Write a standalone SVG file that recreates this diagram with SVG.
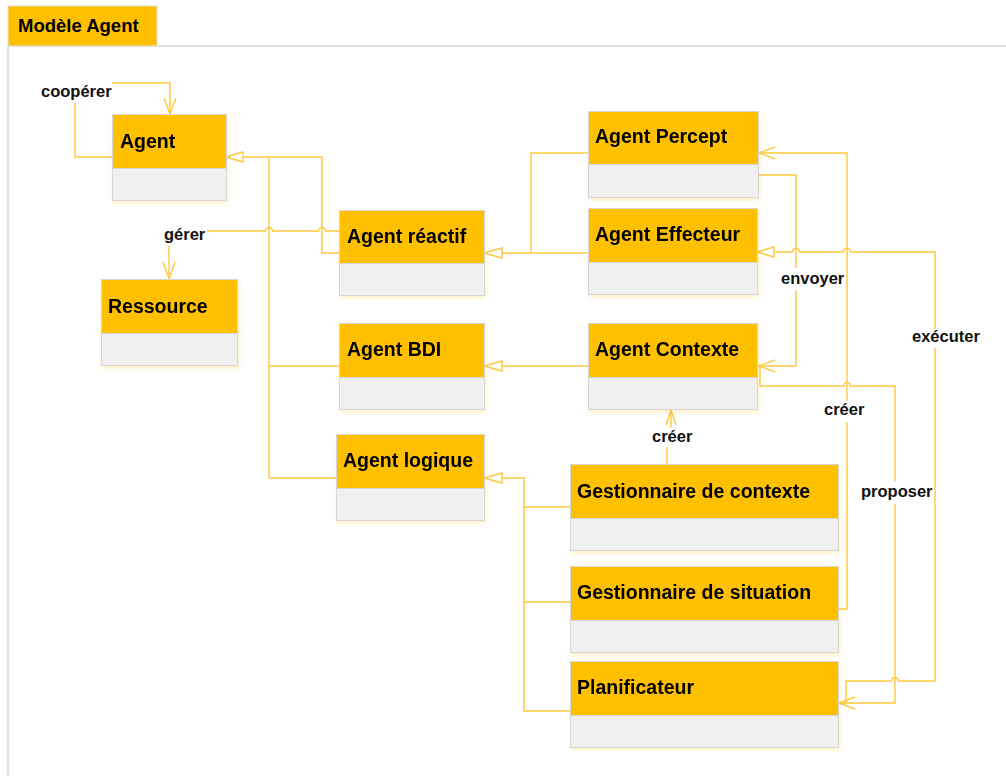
<svg xmlns="http://www.w3.org/2000/svg" width="1006" height="776" viewBox="0 0 1006 776">
<style>
.hd{fill:#FFC000;stroke:#D6D6D6;stroke-width:1}
.bd{fill:#F0F0F0;stroke:#D6D6D6;stroke-width:1}
.nm{font-family:"Liberation Sans",Arial,sans-serif;font-weight:bold;font-size:19.5px;fill:#000}
.lb{font-family:"Liberation Sans",Arial,sans-serif;font-weight:bold;font-size:16.5px;fill:#111}
.ln{fill:none;stroke:#FFC73D;stroke-width:1.4}
.tri{fill:#fff;stroke:#FFC73D;stroke-width:1.4}
</style>
<defs>
<filter id="sh" x="-10%" y="-10%" width="125%" height="130%">
<feDropShadow dx="1" dy="2" stdDeviation="2" flood-color="#FFC000" flood-opacity="0.25"/>
</filter>
</defs>
<rect width="1006" height="776" fill="#fff"/>
<g id="frame">
<path d="M8,776 V46 H1006" fill="none" stroke="#E2E0DA" stroke-width="2"/>
<rect x="8" y="6" width="149" height="40" fill="#FFC000" stroke="#E2E0DA" stroke-width="1"/>
<text x="18" y="32" font-family="Liberation Sans, Arial, sans-serif" font-weight="bold" font-size="18.5px" fill="#000">Modèle Agent</text>
</g>
<g id="connectors">
<!-- coopérer -->
<path class="ln" d="M112,157 H75 V103"/>
<path class="ln" d="M112,83 H170 V114"/>
<path class="ln" d="M164,98 L170,114 L176,98"/>
<!-- inheritance to Agent -->
<path class="ln" d="M243,157 H322 V253 H339"/>
<path class="ln" d="M269,157 V478 H336"/>
<path class="ln" d="M269,366 H339"/>
<polygon class="tri" points="226,157 243,152 243,162"/>
<!-- gérer -->
<path class="ln" d="M339,231 H325.5 a3.5,3.5 0 0 0 -7,0 H272.5 a3.5,3.5 0 0 0 -7,0 H207"/>
<path class="ln" d="M169,246 V279"/>
<path class="ln" d="M163,262 L169,279 L175,262"/>
<!-- to Agent réactif -->
<path class="ln" d="M588,153 H531 V253"/>
<path class="ln" d="M502,253 H588"/>
<polygon class="tri" points="484,253 502,248 502,258"/>
<!-- to Agent BDI -->
<path class="ln" d="M502,366 H588"/>
<polygon class="tri" points="484,366 502,361 502,371"/>
<!-- to Agent logique -->
<path class="ln" d="M502,478 H524 V711 H570"/>
<path class="ln" d="M524,507 H570"/>
<path class="ln" d="M524,602 H570"/>
<polygon class="tri" points="484,478 502,473 502,483"/>
<!-- envoyer -->
<path class="ln" d="M758,175 H796 V268"/>
<path class="ln" d="M796,290 V366 H759"/>
<path class="ln" d="M775,360 L759,366 L775,372"/>
<!-- créer (situation -> percept) -->
<path class="ln" d="M838,609 H847 V422"/>
<path class="ln" d="M847,401 V153 H759"/>
<path class="ln" d="M775,147 L759,153 L775,159"/>
<!-- exécuter -->
<path class="ln" d="M774,252 H792.5 a3.5,3.5 0 0 1 7,0 H843.5 a3.5,3.5 0 0 1 7,0 H935 V329"/>
<path class="ln" d="M935,348 V681 H898.5 a3.5,3.5 0 0 0 -7,0 H846 V703"/>
<polygon class="tri" points="757,252 774,247 774,257"/>
<!-- proposer -->
<path class="ln" d="M760,367 V386 H843.5 a3.5,3.5 0 0 1 7,0 H895 V481"/>
<path class="ln" d="M895,504 V703 H839"/>
<path class="ln" d="M855,697 L839,703 L855,709"/>
<!-- créer (gestionnaire contexte -> contexte) -->
<path class="ln" d="M667,464 V447"/>
<path class="ln" d="M671,428 V410"/>
<path class="ln" d="M666,425 L671,410 L676,425"/>
<!-- labels -->
<text class="lb" x="41" y="97">coopérer</text>
<text class="lb" x="164" y="240">gérer</text>
<text class="lb" x="781" y="284">envoyer</text>
<text class="lb" x="912" y="342">exécuter</text>
<text class="lb" x="824" y="415">créer</text>
<text class="lb" x="652" y="442">créer</text>
<text class="lb" x="861" y="497">proposer</text>
</g>
<g id="agent" filter="url(#sh)">
<rect class="bd" x="112.5" y="114.5" width="114" height="86"/>
<rect class="hd" x="112.5" y="114.5" width="114" height="54"/>
<text class="nm" x="120" y="148">Agent</text>
</g>
<g id="ressource" filter="url(#sh)">
<rect class="bd" x="101.5" y="279.5" width="136" height="86"/>
<rect class="hd" x="101.5" y="279.5" width="136" height="54"/>
<text class="nm" x="108" y="313">Ressource</text>
</g>
<g id="agent-reactif" filter="url(#sh)">
<rect class="bd" x="339.5" y="210.5" width="145" height="85"/>
<rect class="hd" x="339.5" y="210.5" width="145" height="53"/>
<text class="nm" x="347" y="243">Agent réactif</text>
</g>
<g id="agent-bdi" filter="url(#sh)">
<rect class="bd" x="339.5" y="323.5" width="145" height="86"/>
<rect class="hd" x="339.5" y="323.5" width="145" height="54"/>
<text class="nm" x="347" y="356">Agent BDI</text>
</g>
<g id="agent-logique" filter="url(#sh)">
<rect class="bd" x="336.5" y="434.5" width="148" height="86"/>
<rect class="hd" x="336.5" y="434.5" width="148" height="54"/>
<text class="nm" x="343" y="467">Agent logique</text>
</g>
<g id="agent-percept" filter="url(#sh)">
<rect class="bd" x="588.5" y="111.5" width="170" height="86"/>
<rect class="hd" x="588.5" y="111.5" width="170" height="53"/>
<text class="nm" x="595" y="143">Agent Percept</text>
</g>
<g id="agent-effecteur" filter="url(#sh)">
<rect class="bd" x="588.5" y="208.5" width="169" height="86"/>
<rect class="hd" x="588.5" y="208.5" width="169" height="54"/>
<text class="nm" x="595" y="241">Agent Effecteur</text>
</g>
<g id="agent-contexte" filter="url(#sh)">
<rect class="bd" x="588.5" y="323.5" width="169" height="86"/>
<rect class="hd" x="588.5" y="323.5" width="169" height="54"/>
<text class="nm" x="595" y="356">Agent Contexte</text>
</g>
<g id="gestionnaire-contexte" filter="url(#sh)">
<rect class="bd" x="570.5" y="464.5" width="268" height="86"/>
<rect class="hd" x="570.5" y="464.5" width="268" height="54"/>
<text class="nm" x="577" y="498">Gestionnaire de contexte</text>
</g>
<g id="gestionnaire-situation" filter="url(#sh)">
<rect class="bd" x="570.5" y="566.5" width="268" height="86"/>
<rect class="hd" x="570.5" y="566.5" width="268" height="54"/>
<text class="nm" x="577" y="599">Gestionnaire de situation</text>
</g>
<g id="planificateur" filter="url(#sh)">
<rect class="bd" x="570.5" y="661.5" width="268" height="86"/>
<rect class="hd" x="570.5" y="661.5" width="268" height="54"/>
<text class="nm" x="577" y="694">Planificateur</text>
</g>
</svg>
